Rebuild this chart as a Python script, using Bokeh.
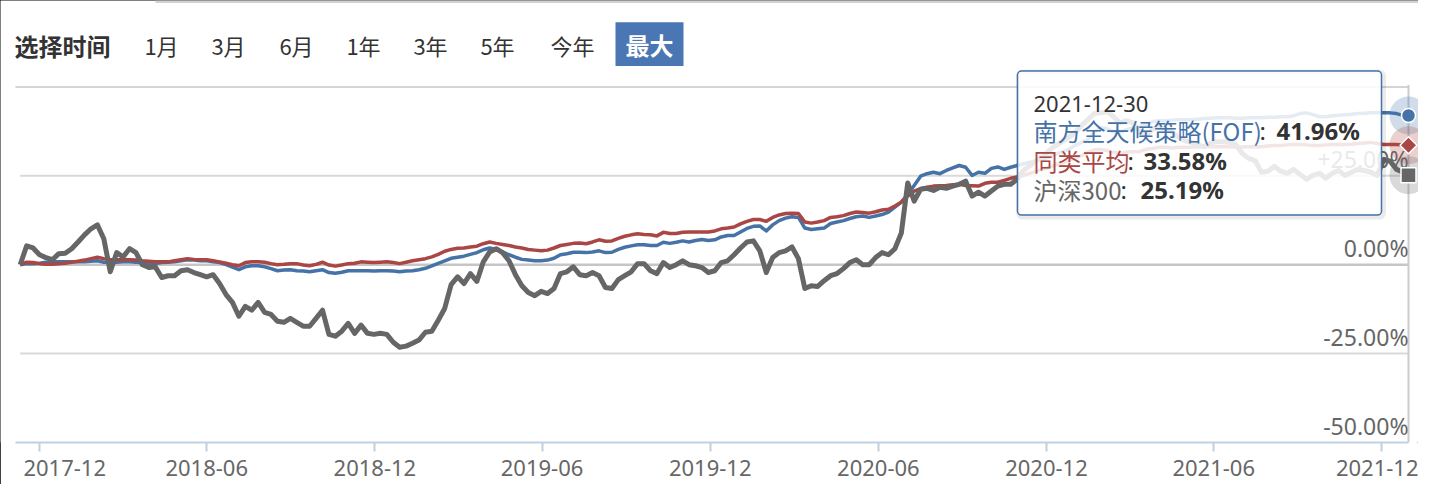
import pandas as pd
from bokeh.plotting import figure
from bokeh.models import Range1d, FixedTicker, DatetimeTickFormatter
from bokeh.core.properties import value
from bokeh.embed import file_html
from bokeh.resources import INLINE

# ---------------- data ----------------
first_week = "2017-11-10"
last_week = "2021-12-24"
last_day = "2021-12-30"
dates = list(pd.date_range(first_week, last_week, freq="7D")) + [pd.Timestamp(last_day)]

series_names = ["南方全天候策略(FOF)", "同类平均", "沪深300"]

fund = [
    0.0, 0.3, 0.3, 0.4, 0.7, 0.8, 0.8, 0.8, 0.8, 0.8,
    0.8, 1.0, 1.1, 0.7, 0.6, 0.7, 0.8, 0.8, 0.7, 0.6,
    0.4, 0.3, 0.6, 0.7, 0.8, 1.1, 1.4, 1.3, 1.1, 1.1,
    0.8, 0.6, 0.0, -0.7, -1.4, -0.6, -0.3, -0.3, -0.6, -1.1,
    -1.7, -1.5, -1.4, -1.7, -1.8, -2.0, -1.7, -1.4, -2.2, -2.4,
    -2.1, -1.7, -1.7, -1.7, -1.7, -1.8, -1.7, -1.7, -1.8, -2.0,
    -1.8, -1.7, -1.4, -1.0, -0.3, 0.4, 1.1, 1.8, 2.1, 2.4,
    2.9, 3.4, 4.2, 4.7, 4.3, 3.6, 2.8, 2.1, 1.5, 1.3,
    1.1, 1.1, 1.3, 1.8, 2.8, 3.1, 3.5, 3.5, 3.4, 3.6,
    3.9, 3.4, 3.5, 4.3, 4.9, 5.3, 5.6, 5.6, 5.4, 5.4,
    6.3, 6.0, 6.3, 6.7, 6.4, 6.8, 7.1, 6.8, 7.0, 7.8,
    8.2, 8.2, 9.2, 10.2, 10.8, 10.9, 9.5, 11.2, 12.4, 13.1,
    13.5, 13.3, 10.3, 9.9, 10.1, 10.3, 11.6, 12.0, 12.4, 13.0,
    13.5, 13.7, 13.3, 13.7, 14.1, 14.8, 16.2, 17.6, 19.8, 22.3,
    24.9, 25.6, 26.0, 25.6, 26.5, 27.2, 27.9, 27.4, 25.1, 26.0,
    25.7, 27.1, 27.5, 26.8, 27.4, 27.9, 28.4, 28.8, 29.2, 29.6,
    30.3, 31.0, 31.7, 32.4, 33.5, 34.4, 35.2, 37.2, 38.5, 38.3,
    37.4, 37.2, 38.0, 38.5, 38.8, 39.4, 40.2, 40.5, 40.5, 40.6,
    40.8, 40.8, 40.8, 40.9, 41.1, 41.2, 41.3, 41.3, 41.3, 41.2,
    41.2, 41.3, 41.3, 41.3, 41.5, 41.5, 41.6, 41.6, 41.9, 42.5,
    42.7, 42.2, 41.6, 41.6, 41.9, 42.0, 42.2, 42.3, 42.5, 42.6,
    42.7, 42.7, 42.7, 42.7, 42.5, 42.0,
    41.96,
]

peer = [
    0.0, 0.7, 0.6, 0.3, 0.1, 0.1, 0.3, 0.4, 0.7, 1.0,
    1.3, 1.7, 2.1, 1.7, 1.4, 1.4, 1.4, 1.4, 1.3, 1.1,
    1.0, 0.8, 0.8, 0.8, 1.1, 1.4, 1.7, 1.5, 1.4, 1.4,
    1.1, 0.8, 0.4, 0.0, -0.3, 0.6, 0.8, 0.8, 0.7, 0.3,
    0.0, 0.1, 0.3, 0.3, -0.1, -0.3, 0.1, 0.7, -0.1, -0.4,
    -0.1, 0.3, 0.4, 0.8, 0.7, 0.6, 0.7, 0.8, 0.6, 0.3,
    0.7, 1.1, 1.4, 1.7, 2.2, 2.9, 3.8, 4.3, 4.6, 4.7,
    5.0, 5.2, 5.9, 6.4, 6.0, 5.7, 5.4, 5.0, 4.7, 4.3,
    4.1, 3.9, 4.1, 4.7, 5.4, 5.7, 6.0, 6.1, 5.9, 6.4,
    7.0, 6.6, 6.7, 7.4, 8.0, 8.4, 8.7, 8.5, 8.4, 8.1,
    9.1, 8.8, 8.8, 9.1, 9.2, 9.2, 9.2, 9.2, 9.5, 10.1,
    10.3, 10.6, 11.5, 12.2, 12.7, 12.7, 12.2, 13.3, 14.0, 14.4,
    14.5, 14.4, 12.0, 11.7, 12.0, 12.4, 13.3, 13.5, 13.8, 14.4,
    14.8, 14.7, 14.5, 14.9, 15.4, 15.6, 16.5, 17.6, 19.3, 20.7,
    21.4, 21.8, 22.1, 22.2, 22.3, 22.5, 22.6, 22.3, 22.2, 22.1,
    22.9, 23.2, 23.2, 23.7, 24.3, 24.7, 25.1, 25.7, 26.3, 26.8,
    27.4, 28.1, 28.6, 29.3, 30.0, 30.7, 31.6, 32.3, 32.4, 32.1,
    31.6, 31.3, 31.6, 31.8, 31.8, 32.4, 32.7, 33.0, 33.0, 32.8,
    33.0, 33.0, 33.0, 33.1, 33.2, 33.2, 33.2, 33.2, 33.2, 33.1,
    33.1, 33.2, 33.2, 33.2, 33.4, 33.5, 33.5, 33.7, 33.8, 33.8,
    33.7, 33.5, 33.5, 33.7, 33.8, 33.8, 33.8, 33.9, 34.1, 34.2,
    34.4, 34.1, 33.8, 33.8, 33.8, 33.7,
    33.58,
]

hs300 = [
    0.0, 5.3, 4.7, 2.8, 2.0, 1.4, 3.1, 3.2, 4.5, 6.4,
    8.4, 10.1, 11.2, 7.3, -2.0, 3.4, 2.2, 4.5, 3.4, 0.0,
    -0.8, -0.6, -3.6, -3.1, -3.1, -1.7, -1.4, -2.2, -2.8, -3.4,
    -2.8, -5.3, -8.4, -10.6, -14.5, -11.7, -12.8, -10.6, -13.4, -14.0,
    -15.9, -16.2, -15.1, -16.2, -17.3, -17.3, -15.1, -12.8, -19.6, -20.1,
    -18.7, -16.5, -19.3, -17.0, -19.3, -19.6, -19.3, -19.6, -21.8, -23.2,
    -22.9, -22.1, -21.2, -19.0, -18.7, -15.6, -12.3, -5.6, -3.4, -5.3,
    -2.5, -4.7, 0.8, 3.6, 4.5, 3.4, 1.1, -2.8, -5.9, -7.8,
    -8.7, -7.5, -8.1, -6.7, -2.5, -2.0, -0.6, -2.8, -3.1, -2.2,
    -3.1, -6.4, -6.7, -4.2, -3.1, -2.0, 0.3, 0.3, -1.7, -2.5,
    0.6, -0.8, 0.0, 1.1, 0.0, -0.3, -0.8, -2.2, -1.7, 0.6,
    1.1, 2.8, 4.7, 6.4, 6.7, 3.9, -2.2, 2.0, 3.4, 3.9,
    5.0, 1.7, -6.7, -5.9, -6.1, -4.5, -3.1, -2.5, -1.1, 0.6,
    1.4, 0.0, 0.0, 2.0, 3.4, 2.8, 4.5, 8.9, 23.0, 17.9,
    21.2, 21.5, 20.9, 21.8, 21.5, 22.1, 22.6, 23.5, 19.3, 20.4,
    19.3, 20.7, 22.1, 22.6, 22.6, 24.0, 26.5, 27.9, 29.3, 30.4,
    32.1, 33.5, 34.6, 35.8, 37.2, 39.1, 40.8, 42.5, 42.7, 43.0,
    41.6, 39.9, 40.5, 39.9, 37.4, 36.3, 38.0, 38.8, 38.0, 37.4,
    36.0, 34.9, 34.4, 33.8, 33.2, 34.1, 34.6, 34.6, 34.4, 33.8,
    31.3, 29.9, 29.3, 26.0, 26.3, 27.7, 26.3, 25.7, 26.8, 25.4,
    24.0, 25.1, 25.7, 24.3, 25.7, 26.5, 25.1, 26.0, 26.8, 26.5,
    26.0, 25.1, 29.6, 29.1, 26.8, 26.0,
    25.19,
]

x_tick_dates = ["2017-12-01", "2018-06-01", "2018-12-01", "2019-06-01", "2019-12-01",
                "2020-06-01", "2020-12-01", "2021-06-01", "2021-12-01"]
y_label_values = [25, 0, -25, -50]
grid_values = [50, 25, -25]
header_title = "选择时间"
range_buttons = ["1月", "3月", "6月", "1年", "3年", "5年", "今年"]
active_button = "最大"
tooltip_date = "2021-12-30"

# ---------------- styles / layout ----------------
BLUE, RED, GRAY = "#4572A7", "#AA4643", "#666666"
DARK, LABEL = "#333333", "#666666"
LATIN = value("Noto Sans")
CJK = value("Noto Sans CJK SC")

W, H = 1418, 484
FRAME_BOTTOM = 445
ANCHOR = pd.Timestamp("2017-12-01")
PX_PER_DAY = 0.91879


def X(px):
    return ANCHOR + pd.Timedelta(days=(px - 39) / PX_PER_DAY)


def Y(py):
    return (266 - py) / 3.58


p = figure(width=W, height=H, x_axis_type="datetime", y_axis_location=None,
           x_range=Range1d(X(0), X(W)), y_range=Range1d(Y(FRAME_BOTTOM), Y(0)),
           toolbar_location=None, output_backend="svg",
           min_border_left=0, min_border_right=0, min_border_top=0,
           min_border_bottom=H - FRAME_BOTTOM)
p.outline_line_color = None
p.xgrid.visible = False
p.ygrid.visible = False
p.background_fill_color = "white"
p.border_fill_color = "white"
p.styles = {"outline": "1px solid #000000", "outline-offset": "-1px"}

x0, x1 = dates[0], dates[-1]

# top strip of the page
p.quad(left=[X(155)], right=[X(W)], top=[Y(0)], bottom=[Y(2.5)], fill_color="#d2d2d2", line_color=None)

# grid lines + plot border
p.segment(x0=[x0] * len(grid_values), x1=[x1] * len(grid_values), y0=grid_values, y1=grid_values,
          line_color="#d9d9d9", line_width=2)
p.segment(x0=[X(15)], x1=[x1], y0=[50], y1=[50], line_color="#d4d4d4", line_width=2)
p.segment(x0=[x0], x1=[x1], y0=[0], y1=[0], line_color="#c6c6c6", line_width=2.5)
p.segment(x0=[x1], x1=[x1], y0=[Y(FRAME_BOTTOM)], y1=[Y(85)], line_color="#cccccc", line_width=2)

# value labels inside plot, right side
y_labels = [("+" if v > 0 else "") + f"{v:.2f}%" for v in y_label_values]
p.text(x=[x1] * len(y_label_values), y=y_label_values, text=y_labels,
       text_font=LATIN, text_font_size="23px", text_color=LABEL,
       text_align="right", text_baseline="bottom", y_offset=-1)

# series
p.line(dates, fund, line_color=BLUE, line_width=3.5, line_join="round")
p.line(dates, peer, line_color=RED, line_width=3.5, line_join="round")
p.line(dates, hs300, line_color=GRAY, line_width=5, line_join="round")

# end markers with halos
p.scatter([x1], [fund[-1]], size=38, marker="circle", fill_color=BLUE, fill_alpha=0.25, line_color=None)
p.scatter([x1], [peer[-1]], size=38, marker="circle", fill_color=RED, fill_alpha=0.25, line_color=None)
p.scatter([x1], [hs300[-1]], size=38, marker="circle", fill_color=GRAY, fill_alpha=0.25, line_color=None)
p.scatter([x1], [fund[-1]], size=14, marker="circle", fill_color=BLUE, line_color="white", line_width=1.5)
p.scatter([x1], [peer[-1]], size=12, marker="square", angle=0.785398, fill_color=RED,
          line_color="white", line_width=1.5)
p.scatter([x1], [hs300[-1]], size=15, marker="square", fill_color=GRAY, line_color="white", line_width=1.5)

# tooltip
p.quad(left=[X(1018)], right=[X(1383)], top=[Y(72)], bottom=[Y(218)],
       fill_color=None, line_color="black", line_alpha=0.08, line_width=5, border_radius=4)
p.quad(left=[X(1017)], right=[X(1381)], top=[Y(71)], bottom=[Y(216)],
       fill_color="white", fill_alpha=0.86, line_color=BLUE, line_width=1.5, border_radius=4)
p.text(x=[X(1033)], y=[Y(104)], text=[tooltip_date], text_font=LATIN, text_font_size="22px",
       text_color=DARK, text_align="left", text_baseline="middle")
rows = [
    (series_names[0], fund[-1], BLUE, 131, 1259, 1276),
    (series_names[1], peer[-1], RED, 161, 1127, 1143),
    (series_names[2], hs300[-1], GRAY, 190, 1120, 1140),
]
for name, val, col, py, colon_px, val_px in rows:
    p.text(x=[X(1033)], y=[Y(py)], text=[name], text_font=CJK, text_font_size="24px",
           text_color=col, text_align="left", text_baseline="middle")
    p.text(x=[X(colon_px)], y=[Y(py)], text=[":"], text_font=LATIN, text_font_size="24px",
           text_color=DARK, text_align="left", text_baseline="middle")
    p.text(x=[X(val_px)], y=[Y(py)], text=[f"{val:.2f}%"], text_font=LATIN, text_font_size="24px",
           text_font_style="bold", text_color=DARK, text_align="left", text_baseline="middle")

# header: range selector
p.text(x=[X(14)], y=[Y(45)], text=[header_title], text_font=CJK, text_font_size="24px",
       text_font_style="bold", text_color=DARK, text_align="left", text_baseline="middle")
button_centers = [161, 228, 296, 363, 430, 497, 572]
p.text(x=[X(c) for c in button_centers], y=[Y(45)] * len(range_buttons), text=range_buttons,
       text_font=CJK, text_font_size="22px", text_color=DARK, text_align="center",
       text_baseline="middle")
p.quad(left=[X(615)], right=[X(683)], top=[Y(22)], bottom=[Y(66)], fill_color="#4a76b3", line_color=None)
p.text(x=[X(649)], y=[Y(44)], text=[active_button], text_font=CJK, text_font_size="24px",
       text_font_style="bold", text_color="white", text_align="center", text_baseline="middle")

# x axis
tick_ms = [int(pd.Timestamp(d).value // 10**6) for d in x_tick_dates]
xa = p.xaxis[0]
xa.ticker = FixedTicker(ticks=tick_ms)
xa.formatter = DatetimeTickFormatter(days="%Y-%m", months="%Y-%m", years="%Y-%m")
xa.major_label_overrides = {tick_ms[0]: "\u00a0" * 4 + pd.Timestamp(x_tick_dates[0]).strftime("%Y-%m")}
xa.bounds = (X(15).to_pydatetime(), x1.to_pydatetime())
xa.axis_line_color = "#C0D0E0"
xa.axis_line_width = 2
xa.major_tick_line_color = "#C0D0E0"
xa.major_tick_line_width = 2
xa.major_tick_out = 9
xa.major_tick_in = 0
xa.minor_tick_out = 0
xa.minor_tick_in = 0
xa.major_label_standoff = 0
xa.major_label_text_font = "Noto Sans"
xa.major_label_text_font_size = "22px"
xa.major_label_text_color = LABEL

open("out.html", "w", encoding="utf-8").write(file_html(p, INLINE, "chart"))
